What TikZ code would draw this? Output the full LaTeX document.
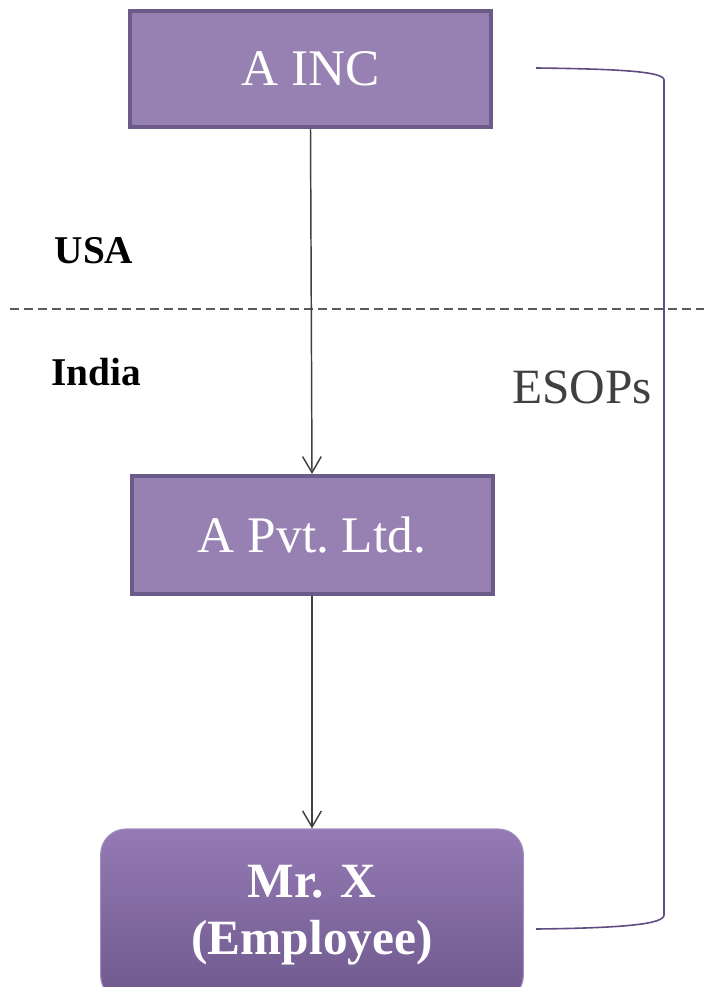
\documentclass[tikz,border=0pt]{standalone}
\usepackage{fontspec}
\setmainfont{Liberation Serif}
\usetikzlibrary{arrows.meta,positioning}
\definecolor{boxc}{RGB}{151,129,178}
\definecolor{boxl}{RGB}{108,90,136}
\definecolor{empt}{RGB}{149,122,181}
\definecolor{empb}{RGB}{110,89,140}
\definecolor{empl}{RGB}{160,140,192}
\definecolor{esopc}{RGB}{96,76,128}
\definecolor{arrc}{RGB}{64,64,64}
\definecolor{sepc}{RGB}{90,90,90}

\begin{document}
\begin{tikzpicture}[x=0.75pt,y=-0.75pt,>={Straight Barb[length=12pt,width=14pt]},
  entity/.style={draw=boxl,fill=boxc,line width=3pt,text=white,inner sep=0pt,
    minimum width=270.75pt,font=\fontsize{38.5}{46}\selectfont},
  person/.style={draw=empl,line width=0.8pt,top color=empt,bottom color=empb,
    rounded corners=19pt,text=white,inner sep=0pt,align=center,
    minimum width=317pt,minimum height=129pt,
    font=\bfseries\fontsize{37}{43}\selectfont},
  flow/.style={->,draw=arrc,line width=1.1pt},
  region/.style={font=\bfseries\fontsize{29.5}{34}\selectfont},
  esop/.style={draw=esopc,line width=1.2pt}]
  \path[use as bounding box,clip] (0,0) rectangle (704,987);
  % boxes
  \node[entity,minimum height=87pt]  (ainc) at (310.5,69) {A INC};
  \node[entity,minimum height=88.5pt] (apvt) at (312,535) {A Pvt.\ Ltd.};
  \node[person] (mrx) at (312,915) {Mr. X\\(Employee)};
  % country split
  \coordinate (sepl) at (10,309);
  \coordinate (sepr) at (704,309);
  \draw[sepc,line width=1.1pt,dash pattern=on 6.5pt off 4pt] (sepl) -- (sepr);
  \node[region] (usa) at (94,251) {USA};
  \node[region] (india) at (96,372) {India};
  % holding flow
  \draw[flow] (ainc.south) -- (apvt.north);
  \draw[flow] (apvt.south) -- (mrx.north);
  % ESOPs bracket
  \coordinate (esopa) at (536,68);
  \coordinate (esopb) at (536,929);
  \draw[esop] (esopa) .. controls (625,69) and (664,72) .. (664,80)
    -- (664,915) .. controls (664,924) and (625,928) .. (esopb);
  \node[text=arrc,font=\fontsize{37}{44}\selectfont] (esops) at (582,387) {ESOPs};
\end{tikzpicture}
\end{document}
